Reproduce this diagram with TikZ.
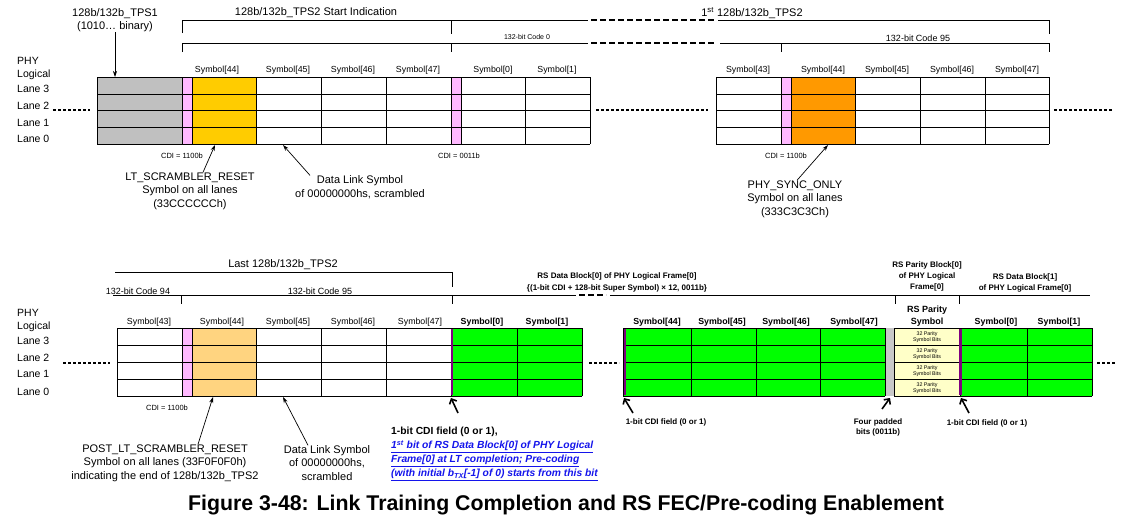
\documentclass[tikz,border=0pt]{standalone}
\usepackage{fontspec}
\setmainfont{Liberation Sans}
\usetikzlibrary{arrows.meta}

\definecolor{cinza}{RGB}{192,192,192}
\definecolor{cinzaclaro}{RGB}{200,200,200}
\definecolor{rosa}{RGB}{255,185,255}
\definecolor{amarelo}{RGB}{255,204,0}
\definecolor{laranja}{RGB}{255,153,0}
\definecolor{laranjaclaro}{RGB}{255,212,128}
\definecolor{verde}{RGB}{0,255,0}
\definecolor{creme}{RGB}{255,255,200}
\definecolor{roxo}{RGB}{128,0,128}
\definecolor{azul}{RGB}{20,20,235}

\begin{document}
\begin{tikzpicture}[x=1pt, y=-1pt,
  grade/.style={line width=0.9pt},
  chave/.style={line width=0.9pt},
  tracos/.style={line width=1.4pt, dash pattern=on 6pt off 3pt},
  pontos/.style={line width=2.6pt, dash pattern=on 2.6pt off 2.4pt},
  simb/.style={inner sep=0pt, font=\fontsize{8.8}{10}\selectfont},
  simbn/.style={inner sep=0pt, font=\bfseries\fontsize{8.8}{10}\selectfont},
  faixa/.style={inner sep=0pt, anchor=west, font=\fontsize{10.5}{12}\selectfont},
  texto/.style={inner sep=0pt, align=center, font=\fontsize{11}{13.5}\selectfont},
  cdi/.style={inner sep=0pt, font=\fontsize{7.5}{9}\selectfont},
  codigo/.style={inner sep=0pt, font=\fontsize{9}{11}\selectfont},
  bloco/.style={inner sep=0pt, align=center, font=\bfseries\fontsize{8}{11}\selectfont},
  nota/.style={inner sep=0pt, align=center, font=\bfseries\fontsize{8}{10}\selectfont},
  paridade/.style={inner sep=0pt, align=center, font=\fontsize{5.3}{6.5}\selectfont},
  seta/.style={-{Stealth[length=6pt,width=4pt]}, line width=0.7pt},
  setagrossa/.style={-{Straight Barb[length=4pt,width=8pt]}, line width=1.6pt}
]
  \useasboundingbox (0,0) rectangle (1131,520);

  % Chaves (superior)
  \node[texto] (tpsum) at (115,20) {128b/132b\_TPS1\\(1010… binary)};
  \node[texto] (inicio) at (316,13) {128b/132b\_TPS2 Start Indication};
  \node[texto] (primeiro) at (752,13) {1\textsuperscript{st} 128b/132b\_TPS2};
  \node[cdi, font=\fontsize{7}{8}\selectfont] (codzero) at (527,37) {132-bit Code 0};
  \node[codigo] (codA) at (918,38) {132-bit Code 95};
  \draw[chave] (182,33) -- (182,20) -- (588,20);
  \draw[chave] (451,20) -- (451,34);
  \draw[tracos] (591,20) -- (716,20);
  \draw[chave] (718,20) -- (1049,20) -- (1049,34);
  \draw[chave] (182,52) -- (182,43) -- (588,43);
  \draw[chave] (451,43) -- (451,52);
  \draw[tracos] (591,43) -- (716,43);
  \draw[chave] (720,43) -- (1049,43) -- (1049,52);
  \draw[chave] (781,43) -- (781,52);

  % Faixas (superior)
  \node[faixa] (phyA) at (17,61) {PHY};
  \node[faixa] (logA) at (17,75) {Logical};
  \foreach \n/\y in {3/89,2/106,1/123,0/139}
    \node[faixa] (laneA\n) at (17,\y) {Lane \n};

  % Simbolos (superior)
  \foreach \n/\x in {44/217,45/288,46/353,47/418,0/493,1/557}
    \node[simb] (simbA\n) at (\x,70) {Symbol[\n]};
  \foreach \n/\x in {43/748,44/823,45/887,46/952,47/1017}
    \node[simb] (simbB\n) at (\x,70) {Symbol[\n]};

  \fill[cinza] (97,77) rectangle (182,144);
  \fill[rosa] (182,77) rectangle (192,144);
  \fill[amarelo] (192,77) rectangle (256,144);
  \fill[rosa] (451,77) rectangle (461,144);
  \foreach \y in {77,94,110,127,144}
    \draw[grade] (97,\y) -- (590,\y);
  \foreach \x in {97,182,192,256,321,386,451,461,525,590}
    \draw[grade] (\x,77) -- (\x,144);

  \fill[rosa] (781,77) rectangle (791,144);
  \fill[laranja] (791,77) rectangle (855,144);
  \foreach \y in {77,94,110,127,144}
    \draw[grade] (716,\y) -- (1049,\y);
  \foreach \x in {716,781,791,855,920,985,1049}
    \draw[grade] (\x,77) -- (\x,144);

  % Reticencias
  \draw[pontos] (53,110) -- (90,110);
  \draw[pontos] (596,110) -- (708,110);
  \draw[pontos] (1054,110) -- (1113,110);

  % Notas (superior)
  \coordinate (pontaTS) at (115,77);
  \draw[seta] (tpsum.south) -- (pontaTS);
  \node[cdi] (cdiA) at (182,156) {CDI = 1100b};
  \node[cdi] (cdiB) at (459,156) {CDI = 0011b};
  \node[cdi] (cdiC) at (786,156) {CDI = 1100b};
  \node[texto] (ltsr) at (190,191) {LT\_SCRAMBLER\_RESET\\Symbol on all lanes\\(33CCCCCCh)};
  \node[texto] (dlsA) at (360,187) {Data Link Symbol\\of 00000000hs, scrambled};
  \node[texto] (pso) at (795,199) {PHY\_SYNC\_ONLY\\Symbol on all lanes\\(333C3C3Ch)};
  \coordinate (pontaLT) at (215,145);
  \coordinate (pontaDLA) at (283,145);
  \coordinate (pontaPS) at (828,145);
  \draw[seta] ([xshift=13pt]ltsr.north) -- (pontaLT);
  \draw[seta] ([xshift=-50pt]dlsA.north) -- (pontaDLA);
  \draw[seta] ([xshift=2pt]pso.north) -- (pontaPS);

  % Chaves (inferior)
  \node[texto] (ultimo) at (283,265) {Last 128b/132b\_TPS2};
  \node[codigo] (codB) at (138,291) {132-bit Code 94};
  \node[codigo] (codC) at (320,291) {132-bit Code 95};
  \node[bloco, font=\bfseries\fontsize{8}{12}\selectfont] (rsdzero) at (617,282) {RS Data Block[0] of PHY Logical Frame[0]\\\{(1-bit CDI + 128-bit Super Symbol) × 12, 0011b\}};
  \node[bloco] (rspzero) at (927,276) {RS Parity Block[0]\\of PHY Logical\\Frame[0]};
  \node[bloco] (rsdum) at (1025,283) {RS Data Block[1]\\of PHY Logical Frame[0]};
  \draw[chave] (115,272) -- (452,272) -- (452,287);
  \draw[chave] (113,295) -- (576,295);
  \draw[chave] (181,295) -- (181,304);
  \draw[chave] (452,295) -- (452,304);
  \draw[tracos] (579,295) -- (606,295);
  \draw[chave] (610,295) -- (1090,295);
  \draw[chave] (895,295) -- (895,304);
  \draw[chave] (959,295) -- (959,304);

  % Faixas (inferior)
  \node[faixa] (phyB) at (17,313) {PHY};
  \node[faixa] (logB) at (17,327) {Logical};
  \foreach \n/\y in {3/341,2/358,1/374,0/392}
    \node[faixa] (laneB\n) at (17,\y) {Lane \n};

  % Simbolos (inferior)
  \foreach \n/\x in {43/149,44/222,45/288,46/353,47/420}
    \node[simb] (simbC\n) at (\x,322) {Symbol[\n]};
  \foreach \n/\x in {0/482,1/547}
    \node[simbn] (simbD\n) at (\x,322) {Symbol[\n]};
  \foreach \n/\x in {44/657,45/722,46/786,47/854}
    \node[simbn] (simbE\n) at (\x,322) {Symbol[\n]};
  \node[bloco, font=\bfseries\fontsize{9}{12}\selectfont] (rspsimb) at (927,316) {RS Parity\\Symbol};
  \foreach \n/\x in {0/996,1/1059}
    \node[simbn] (simbF\n) at (\x,322) {Symbol[\n]};

  \fill[rosa] (182,328) rectangle (192,396);
  \fill[laranjaclaro] (192,328) rectangle (256,396);
  \fill[verde] (451,328) rectangle (582,396);
  \foreach \y in {328,345,362,379,396}
    \draw[grade] (117,\y) -- (582,\y);
  \foreach \x in {117,182,192,256,321,386,451,517,582}
    \draw[grade] (\x,328) -- (\x,396);
  \draw[roxo, line width=2pt] (451.5,329) -- (451.5,395);

  \fill[verde] (623,328) rectangle (885,396);
  \fill[cinzaclaro] (885,328) rectangle (894,396);
  \fill[creme] (894,328) rectangle (960,396);
  \fill[verde] (960,328) rectangle (1092,396);
  \foreach \y in {328,345,362,379,396} {
    \draw[grade] (623,\y) -- (885,\y);
    \draw[grade] (894,\y) -- (1092,\y);
  }
  \foreach \x in {623,691,756,820,885,894,960,1027,1092}
    \draw[grade] (\x,328) -- (\x,396);
  \draw[roxo, line width=2.2pt] (625,329) -- (625,395);
  \draw[roxo, line width=2.2pt] (960.5,329) -- (960.5,395);
  \foreach \i/\y in {1/337,2/354,3/371,4/388}
    \node[paridade] (par\i) at (927,\y) {32 Parity\\Symbol Bits};

  % Reticencias
  \draw[pontos] (63,363) -- (110,363);
  \draw[pontos] (589,363) -- (619,363);
  \draw[pontos] (1097,363) -- (1116,363);

  % Notas (inferior)
  \node[cdi] (cdiD) at (167,408) {CDI = 1100b};
  \node[texto] (plsr) at (165,463) {POST\_LT\_SCRAMBLER\_RESET\\Symbol on all lanes (33F0F0F0h)\\indicating the end of 128b/132b\_TPS2};
  \node[texto] (dlsB) at (327,463) {Data Link Symbol\\of 00000000hs,\\scrambled};
  \coordinate (pontaPL) at (213,397);
  \coordinate (pontaDLB) at (283,397);
  \draw[seta] ([xshift=33pt]plsr.north) -- (pontaPL);
  \draw[seta] ([xshift=-19pt]dlsB.north) -- (pontaDLB);

  \node[anchor=north west, inner sep=0pt, align=left, font=\bfseries\fontsize{10.3}{14}\selectfont] (cdinota) at (391,427)
    {1-bit CDI field (0 or 1),\\
     {\color{azul}\itshape\underline{1\textsuperscript{st} bit of RS Data Block[0] of PHY Logical}}\\
     {\color{azul}\itshape\underline{Frame[0] at LT completion; Pre-coding}}\\
     {\color{azul}\itshape\underline{(with initial b\textsubscript{TX}[-1] of 0) starts from this bit}}};
  \node[nota] (cdiE) at (666,422) {1-bit CDI field (0 or 1)};
  \node[nota] (quatro) at (878,427) {Four padded\\bits (0011b)};
  \node[nota] (cdiF) at (987,423) {1-bit CDI field (0 or 1)};
  \coordinate (caudaA) at (458,413);
  \coordinate (pontaA) at (451,398);
  \coordinate (caudaB) at (633,413);
  \coordinate (pontaB) at (624,398);
  \coordinate (caudaC) at (882,409);
  \coordinate (pontaC) at (890,398);
  \coordinate (caudaD) at (969,413);
  \coordinate (pontaD) at (961,398);
  \draw[setagrossa] (caudaA) -- (pontaA);
  \draw[setagrossa] (caudaB) -- (pontaB);
  \draw[setagrossa] (caudaC) -- (pontaC);
  \draw[setagrossa] (caudaD) -- (pontaD);

  % Legenda
  \node[inner sep=0pt, font=\bfseries\fontsize{21.3}{24}\selectfont] (titulo) at (566,505)
    {Figure 3-48: Link Training Completion and RS FEC/Pre-coding Enablement};
\end{tikzpicture}
\end{document}
